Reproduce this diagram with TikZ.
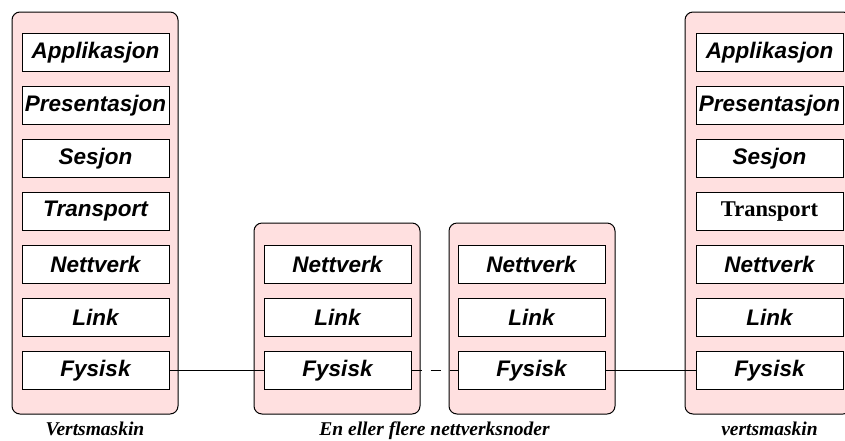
\documentclass[tikz,border=0pt]{standalone}
\usepackage{fontspec}
\setmainfont{Liberation Serif}
\setsansfont{Liberation Sans}
\definecolor{boksrosa}{RGB}{255,224,224}
\tikzset{
  vertsboks/.style={draw=black, fill=boksrosa, line width=1pt, rounded corners=8pt, minimum width=166pt},
  lag/.style={draw=black, fill=white, line width=1pt, minimum width=147pt, minimum height=38pt, inner sep=0pt,
    font=\fontsize{22.5}{26}\selectfont\sffamily\bfseries\itshape},
  undertekst/.style={anchor=base, inner sep=0pt, font=\fontsize{19.5}{22}\selectfont\rmfamily\bfseries\itshape}
}
\begin{document}
\begin{tikzpicture}[x=1pt, y=-1pt]
	  \useasboundingbox (0,0) rectangle (845,440);
	  % maskinene
	  \node[vertsboks, minimum height=402pt] (vert) at (95,213) {};
	  \node[vertsboks, minimum height=191pt] (node1) at (337,318.5) {};
	  \node[vertsboks, minimum height=191pt] (node2) at (532,318.5) {};
	  \node[vertsboks, minimum height=402pt] (mottak) at (768,213) {};
	  % lagene
	  \foreach \navn [count=\i] in {Applikasjon,Presentasjon,Sesjon,Transport,Nettverk,Link,Fysisk}
	    \node[lag] (v\i) at (95.5,{52.5+53*(\i-1)}) {\navn};
	  \foreach \navn [count=\i] in {Applikasjon,Presentasjon,Sesjon,{\rmfamily\upshape Transport},Nettverk,Link,Fysisk}
	    \node[lag] (h\i) at (769.5,{52.5+53*(\i-1)}) {\navn};
	  \foreach \navn [count=\i from 5] in {Nettverk,Link,Fysisk} {
	    \node[lag] (m\i) at (337.5,{52.5+53*(\i-1)}) {\navn};
	    \node[lag] (n\i) at (531.5,{52.5+53*(\i-1)}) {\navn};
	  }
	  % forbindelser
	  \draw[line width=1pt] (v7.east) -- (m7.west);
	  \draw[line width=1pt, dash pattern=on 10pt off 9pt] (m7.east) -- (n7.west);
	  \draw[line width=1pt] (n7.east) -- (h7.west);
	  % tekst under
	  \node[undertekst] (t1) at (95,435) {Vertsmaskin};
	  \node[undertekst] (t2) at (434.5,435) {En eller flere nettverksnoder};
	  \node[undertekst] (t3) at (769.5,435) {vertsmaskin};
	\end{tikzpicture}
\end{document}
